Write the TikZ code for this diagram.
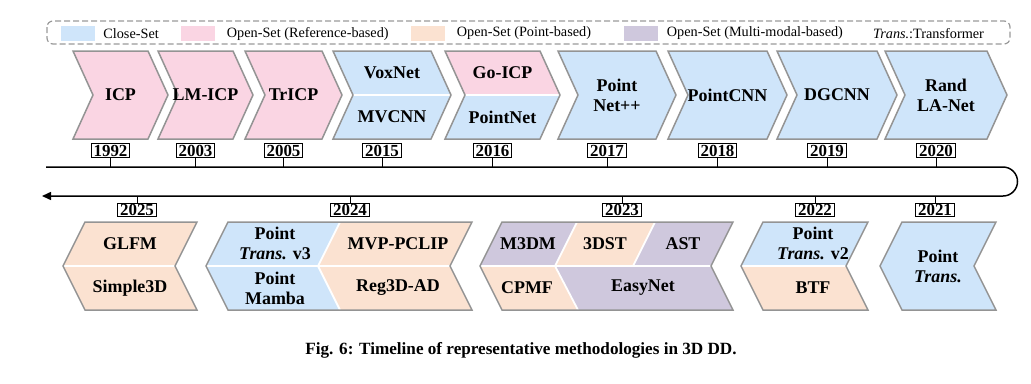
\documentclass[tikz,border=0pt]{standalone}
\usepackage{fontspec}
\setmainfont{Liberation Serif}
\usepackage{tikz}
\usetikzlibrary{positioning,arrows.meta}

\definecolor{cblue}{RGB}{207,229,250}
\definecolor{cpink}{RGB}{250,213,227}
\definecolor{cpeach}{RGB}{251,226,209}
\definecolor{cpurple}{RGB}{207,200,221}

\begin{document}
\begin{tikzpicture}[x=1bp,y=-1bp,
    chev/.style={draw=black!42,line width=1.5bp,line join=miter},
    divider/.style={white,line width=1.8bp},
    rchev/.style 2 args={insert path={(#1,51) -- (#2,51) -- ++(20,44) -- (#2,139) -- (#1,139) -- ++(20,-44) -- cycle}},
    lchev/.style 2 args={insert path={(#1,222) -- (#2,222) -- ++(-22,44) -- (#2,310) -- (#1,310) -- ++(-22,-44) -- cycle}},
    method/.style={font=\fontsize{18}{20}\selectfont\bfseries,align=center,inner sep=0pt},
    year/.style={draw,line width=0.9bp,fill=white,font=\fontsize{17}{17}\selectfont\bfseries,inner xsep=2.5bp,inner ysep=1.2bp},
    tick/.style={line width=0.9bp},
    tline/.style={line width=1.5bp,-{Triangle[length=9bp,width=8bp]}},
    swatch/.style={minimum width=34bp,minimum height=15bp,inner sep=0pt},
    legtxt/.style={font=\fontsize{14.3}{14}\selectfont,inner sep=0pt},
    caption/.style={font=\fontsize{17.2}{17}\selectfont\bfseries,inner sep=0pt}]

    \useasboundingbox (0,0) rectangle (1031,383);

    % legend
    \draw[black!40,line width=1.2bp,dash pattern=on 6bp off 3bp,rounded corners=6bp] (47,21) rectangle (1010,44);
    \node[swatch,fill=cblue] (swclose) at (78,33.5) {};
    \node[legtxt,right=8bp of swclose] (lgclose) {Close-Set};
    \node[swatch,fill=cpink] (swref) at (197.5,33.5) {};
    \node[legtxt,right=12bp of swref] (lgref) {Open-Set (Reference-based)};
    \node[swatch,fill=cpeach] (swpoint) at (427.5,33.5) {};
    \node[legtxt,right=12bp of swpoint] (lgpoint) {Open-Set (Point-based)};
    \node[swatch,fill=cpurple] (swmulti) at (640.5,33.5) {};
    \node[legtxt,right=9bp of swmulti] (lgmulti) {Open-Set (Multi-modal-based)};
    \node[legtxt,anchor=west] (lgtrans) at (873,33.5) {\textit{Trans.}:Transformer};

    % upper row
    \foreach \l/\r/\c in {73/148/cpink,158/233/cpink,245/322/cpink,558/656/cblue,668/767/cblue,777/877/cblue,885/987/cblue}
        \draw[chev,fill=\c,rchev={\l}{\r}];

    \fill[cblue,rchev={333}{431}];
    \draw[divider] (353,95) -- (451,95);
    \draw[chev,rchev={333}{431}];

    \begin{scope}
        \clip[rchev={445}{540}];
        \fill[cpink] (440,51) rectangle (570,95);
        \fill[cblue] (440,95) rectangle (570,139);
        \draw[divider] (465,95) -- (560,95);
    \end{scope}
    \draw[chev,rchev={445}{540}];

    \node[method] (icp) at (120.5,95) {ICP};
    \node[method] (lmicp) at (205.5,95) {LM-ICP};
    \node[method] (tricp) at (293.5,95) {TrICP};
    \node[method] (voxnet) at (392,73) {VoxNet};
    \node[method] (mvcnn) at (392,117) {MVCNN};
    \node[method] (goicp) at (502.5,73) {Go-ICP};
    \node[method] (pointnet) at (502.5,117) {PointNet};
    \node[method] (pointnetpp) at (617,95) {Point\\Net++};
    \node[method] (pointcnn) at (727.5,95) {PointCNN};
    \node[method] (dgcnn) at (837,95) {DGCNN};
    \node[method] (randla) at (946,95) {Rand\\LA-Net};

    % lower row
    \fill[cpeach,lchev={85}{197}];
    \draw[divider] (63,266) -- (175,266);
    \draw[chev,lchev={85}{197}];

    \begin{scope}
        \clip[lchev={228}{472}];
        \fill[cpeach] (200,222) rectangle (480,310);
        \fill[cblue] (200,222) -- (340,222) -- (318,266) -- (340,310) -- (200,310) -- cycle;
        \draw[divider] (200,266) -- (480,266);
        \draw[divider] (340,222) -- (318,266) -- (340,310);
    \end{scope}
    \draw[chev,lchev={228}{472}];

    \begin{scope}
        \clip[lchev={502}{733}];
        \fill[cpurple] (470,222) rectangle (740,310);
        \fill[cpeach] (577,222) -- (655,222) -- (633,266) -- (555,266) -- cycle;
        \fill[cpeach] (470,266) -- (555,266) -- (578,310) -- (470,310) -- cycle;
        \draw[divider] (470,266) -- (740,266);
        \draw[divider] (577,222) -- (555,266) -- (578,310);
        \draw[divider] (655,222) -- (633,266);
    \end{scope}
    \draw[chev,lchev={502}{733}];

    \begin{scope}
        \clip[lchev={763}{868}];
        \fill[cblue] (735,222) rectangle (875,266);
        \fill[cpeach] (735,266) rectangle (875,310);
        \draw[divider] (735,266) -- (875,266);
    \end{scope}
    \draw[chev,lchev={763}{868}];

    \draw[chev,fill=cblue,lchev={902}{996}];

    \node[method] (glfm) at (130,244) {GLFM};
    \node[method] (simple3d) at (130,288) {Simple3D};
    \node[method] (ptv3) at (275,243) {Point\\\textit{Trans.} v3};
    \node[method] (mamba) at (275,288) {Point\\Mamba};
    \node[method] (mvp) at (398,244) {MVP-PCLIP};
    \node[method] (reg3d) at (398,288) {Reg3D-AD};
    \node[method] (m3dm) at (528,244) {M3DM};
    \node[method] (dst) at (605,244) {3DST};
    \node[method] (ast) at (683,244) {AST};
    \node[method] (cpmf) at (527,288) {CPMF};
    \node[method] (easynet) at (643,288) {EasyNet};
    \node[method] (ptv2) at (813,243) {Point\\\textit{Trans.} v2};
    \node[method] (btf) at (813,288) {BTF};
    \node[method] (pt) at (938,266) {Point\\\textit{Trans.}};

    % timeline
    \coordinate (tlstart) at (46,167);
    \coordinate (tlturn) at (1003,167);
    \coordinate (tlend) at (42,196);
    \draw[tline] (tlstart) -- (tlturn) arc[start angle=-90,end angle=90,radius=14.5] -- (tlend);

    \node[year] (y1992) at (110.5,150.5) {1992};
    \node[year] (y2003) at (195.5,150.5) {2003};
    \node[year] (y2005) at (283.5,150.5) {2005};
    \node[year] (y2015) at (382,150.5) {2015};
    \node[year] (y2016) at (492.5,150.5) {2016};
    \node[year] (y2017) at (607,150.5) {2017};
    \node[year] (y2018) at (717.5,150.5) {2018};
    \node[year] (y2019) at (827,150.5) {2019};
    \node[year] (y2020) at (936,150.5) {2020};

    \node[year] (y2025) at (137,210) {2025};
    \node[year] (y2024) at (350,210) {2024};
    \node[year] (y2023) at (622,210) {2023};
    \node[year] (y2022) at (815,210) {2022};
    \node[year] (y2021) at (935,210) {2021};

    \foreach \y in {1992,2003,2005,2015,2016,2017,2018,2019,2020}
        \draw[tick] (y\y.south) -- (y\y.south |- tlstart);
    \foreach \y in {2025,2024,2023,2022,2021}
        \draw[tick] (y\y.north) -- (y\y.north |- tlend);

    \node[caption] (cap) at (521,350) {Fig. 6: Timeline of representative methodologies in 3D DD.};
\end{tikzpicture}
\end{document}
